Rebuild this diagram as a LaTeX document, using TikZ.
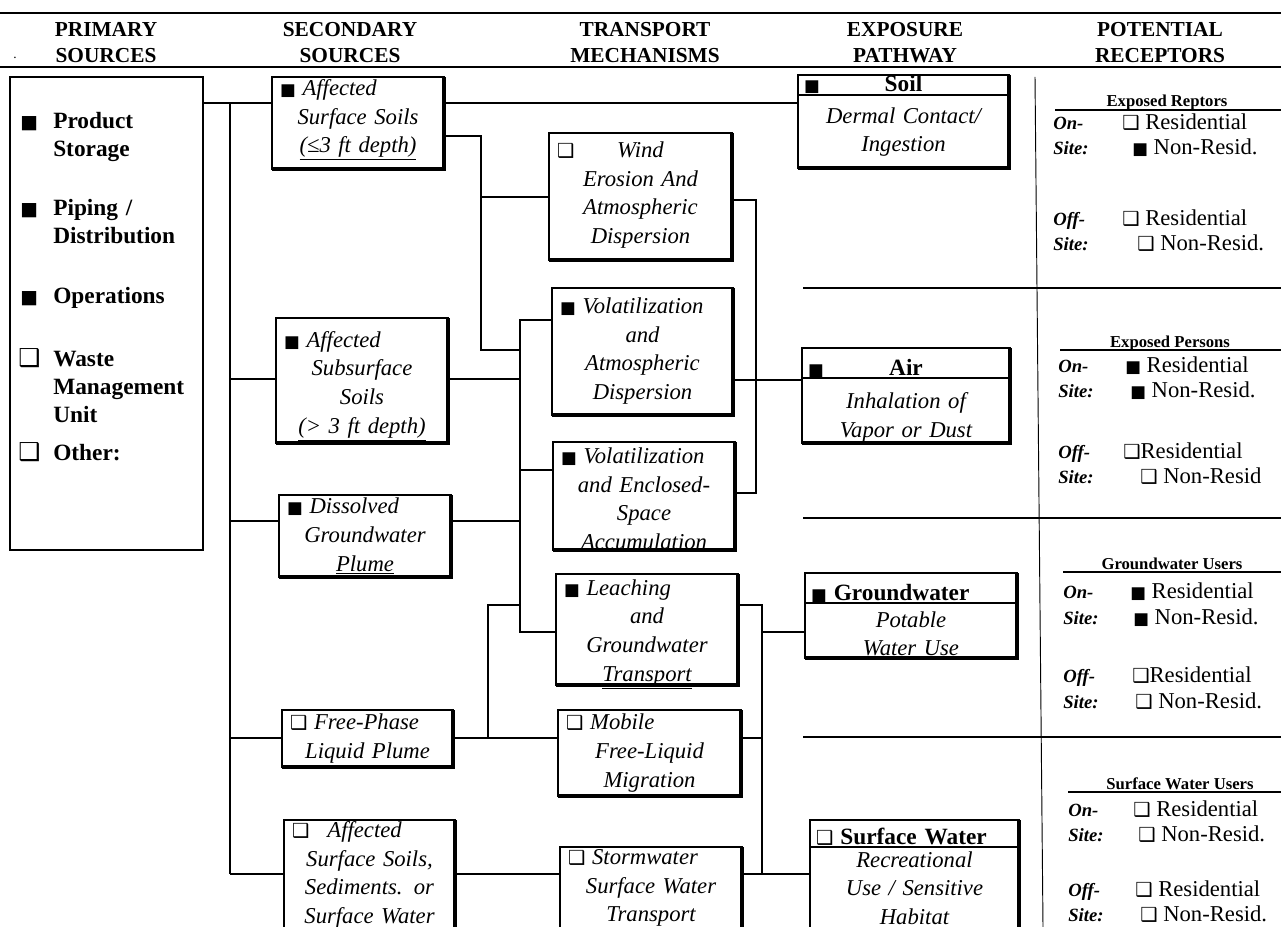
\documentclass[tikz,border=0pt]{standalone}
\usepackage{fontspec}
\setmainfont{Liberation Serif}
\newfontfamily\mysymf{DejaVu Sans}
\usetikzlibrary{calc}

\newcommand\myfsq{{\mysymf\fontsize{12.5}{11}\selectfont\char"25A0}}
\newcommand\myosq{{\mysymf\fontsize{14.5}{11}\selectfont\char"2751}}
\newcommand\myfsqP{{\mysymf\fontsize{14}{14}\selectfont\char"25A0}}
\newcommand\myosqP{{\mysymf\fontsize{18.5}{14}\selectfont\char"2751}}
\newcommand\mysqL[2]{\makebox[\linewidth][l]{#1\hspace{0.3em}#2}}
\newcommand\mysqC[2]{\makebox[\linewidth]{\rlap{#1}\hfill#2\hfill}}

\newcommand\myhead{\bfseries\fontsize{16}{19}\selectfont}
\newcommand\myprim{\bfseries\fontsize{17.5}{21}\selectfont}
\newcommand\mybody{\itshape\fontsize{17}{21.5}\selectfont}
\newcommand\myetit{\bfseries\fontsize{17.5}{20}\selectfont}
\newcommand\myrec{\fontsize{17}{19}\selectfont}
\newcommand\mylab{\bfseries\itshape\fontsize{14}{16}\selectfont}
\newcommand\mystit{\bfseries\fontsize{12.5}{14}\selectfont}

% name x1 y1 x2 y2 texty text
\newcommand\mybx[7]{%
  \node[box, minimum width={(#4-#2)*0.75pt}, minimum height={(#5-#3)*0.75pt}] (#1) at (#2,#3) {};
  \node[btxt, text width={(#4-#2-16)*0.75pt}] (#1t) at ({(#2+#4)/2},#6) {#7};}
% name x1 y1 x2 ydiv y2 title texty body
\newcommand\myex[9]{%
  \node[box, minimum width={(#4-#2)*0.75pt}, minimum height={(#6-#3)*0.75pt}] (#1) at (#2,#3) {};
  \draw[line width=0.9pt] (#1.west |- 0,#5) -- (#1.east |- 0,#5);
  \node[et, text width={(#4-#2-12)*0.75pt}] (#1h) at ({(#2+#4)/2},#5-3) {#7};
  \node[btxt, text width={(#4-#2-16)*0.75pt}] (#1t) at ({(#2+#4)/2},#8) {#9};}
% name x y label xi item
\newcommand\myrow[6]{%
  \node[rl] (#1l) at (#2,#3+7) {#4};
  \node[ri] (#1i) at (#5,#3+7) {#6};}

\begin{document}
\begin{tikzpicture}[x=0.75pt,y=-0.75pt,
  box/.style={draw, line width=0.9pt, inner sep=0pt, outer sep=0pt, anchor=north west},
  btxt/.style={inner sep=0pt, align=center, font=\mybody},
  conn/.style={line width=2.2pt, line join=miter},
  heavy/.style={line width=2.4pt},
  rulel/.style={line width=1.4pt},
  thinrule/.style={line width=0.9pt},
  hd/.style={inner sep=0pt, align=center, font=\myhead, text width=150pt, anchor=base},
  ptxt/.style={inner sep=0pt, align=left, font=\myprim, text width=110pt, anchor=base west},
  psq/.style={inner sep=0pt, anchor=base west},
  et/.style={inner sep=0pt, align=center, font=\myetit, anchor=base},
  rl/.style={inner sep=0pt, font=\mylab, anchor=base west},
  ri/.style={inner sep=0pt, font=\myrec, anchor=base west},
  st/.style={inner sep=0pt, font=\mystit, anchor=base},
]
\fill[white] (0,0) rectangle (1281,927);
\useasboundingbox (0,0) rectangle (1281,927);

% header
\draw[rulel] (0,13) -- (1281,13);
\draw[rulel] (0,67) -- (1281,67);
\node[hd] (h1) at (106,37) {PRIMARY\\SOURCES};
\node[hd] (h2) at (350,37) {SECONDARY\\SOURCES};
\node[hd] (h3) at (645,37) {TRANSPORT\\MECHANISMS};
\node[hd] (h4) at (905,37) {EXPOSURE\\PATHWAY};
\node[hd] (h5) at (1160,37) {POTENTIAL\\RECEPTORS};
\node[inner sep=0pt, font=\fontsize{10}{10}\selectfont] (dot) at (15,58) {.};

% primary sources
\node[box, minimum width={193*0.75pt}, minimum height={473*0.75pt}] (prim) at (10,77) {};
\node[psq] (p1s) at (20,129) {\myfsqP}; \node[ptxt] (p1) at (53,129) {Product\\Storage};
\node[psq] (p2s) at (20,216) {\myfsqP}; \node[ptxt] (p2) at (53,216) {Piping /\\Distribution};
\node[psq] (p3s) at (20,303) {\myfsqP}; \node[ptxt] (p3) at (53,303) {Operations};
\node[psq] (p4s) at (18,366) {\myosqP}; \node[ptxt] (p4) at (53,366) {Waste\\Management\\Unit};
\node[psq] (p5s) at (18,460) {\myosqP}; \node[ptxt] (p5) at (53,460) {Other:};

% secondary sources
\mybx{s1}{272}{77}{444}{169}{120}{\mysqL{\myfsq}{Affected}\\Surface Soils\\\underline{(≤3 ft depth)}}
\mybx{s2}{276}{318}{448}{443}{386}{\mysqL{\myfsq}{Affected}\\Subsurface\\Soils\\\underline{(> 3 ft depth)}}
\mybx{dis}{279}{495}{451}{577}{536}{\mysqL{\myfsq}{Dissolved}\\Groundwater\\\underline{Plume}}
\mybx{fp}{282}{710}{453}{767}{740}{\mysqL{\myosq}{Free-Phase}\\\underline{Liquid Plume}}
\mybx{sed}{284}{820}{455}{940}{875}{\mysqL{\myosq}{\enspace Affected}\\Surface Soils,\\Sediments. or\\Surface Water}

% transport mechanisms
\mybx{wind}{549}{133}{732}{260}{195}{\mysqC{\myosq}{Wind}\\Erosion And\\Atmospheric\\Dispersion}
\mybx{vol1}{552}{288}{733}{415}{351}{\mysqL{\myfsq}{Volatilization}\\and\\Atmospheric\\Dispersion}
\mybx{vol2}{553}{442}{735}{550}{500}{\mysqL{\myfsq}{Volatilization}\\and Enclosed-\\Space\\\underline{Accumulation}}
\mybx{leach}{556}{574}{738}{685}{634}{\mysqL{\myfsq}{Leaching}\\and\\Groundwater\\\underline{Transport}}
\mybx{mob}{558}{710}{741}{796}{753}{\mysqL{\myosq}{Mobile}\\Free-Liquid\\Migration}
\mybx{storm}{560}{847}{742}{940}{888}{\mysqL{\myosq}{Stormwater}\\Surface Water\\Transport}

% exposure pathways
\myex{soil}{798}{75}{1009}{95}{168}{\mysqC{\myfsq}{Soil}}{132}{Dermal Contact/\\Ingestion}
\myex{air}{802}{348}{1010}{378}{443}{\mysqC{\myfsq}{Air}}{419}{Inhalation of\\\underline{Vapor or Dust}}
\myex{gw}{805}{573}{1017}{603}{658}{\mysqL{\myfsq}{Groundwater}}{635}{Potable\\\underline{Water Use}}
\myex{sw}{810}{820}{1019}{847}{940}{\mysqL{\myosq}{Surface Water}}{888}{Recreational\\Use / Sensitive\\Habitat}

\foreach \n in {s1,s2,dis,fp,sed,wind,vol1,vol2,leach,mob,storm,soil,air,gw,sw}
  \draw[heavy] (\n.north east) -- (\n.south east) -- (\n.south west);

% connectors: primary trunk
\coordinate (tr0) at (230,103);
\coordinate (tr1) at (230,379);
\coordinate (tr2) at (230,521);
\coordinate (tr3) at (230,738);
\coordinate (tr4) at (230,874);
\draw[conn] (prim.east |- tr0) -- (s1.west |- tr0);
\draw[conn] (tr0) -- (tr4);
\draw[conn] (tr1) -- (s2.west |- tr1);
\draw[conn] (tr2) -- (dis.west |- tr2);
\draw[conn] (tr3) -- (fp.west |- tr3);
\draw[conn] (tr4) -- (sed.west |- tr4);

% surface soils
\coordinate (a0) at (600,103);
\draw[conn] (s1.east |- a0) -- (soil.west |- a0);
\coordinate (b0) at (481,136);
\coordinate (b1) at (481,197);
\coordinate (b2) at (481,350);
\coordinate (c0) at (520,320);
\coordinate (c1) at (520,350);
\coordinate (c2) at (520,379);
\coordinate (c3) at (520,470);
\coordinate (c4) at (520,521);
\coordinate (c5) at (520,605);
\coordinate (c6) at (520,632);
\draw[conn] (s1.east |- b0) -- (b0) -- (b2) -- (c1);
\draw[conn] (b1) -- (wind.west |- b1);
\draw[conn] (vol1.west |- c0) -- (c0) -- (c6) -- (leach.west |- c6);
\draw[conn] (s2.east |- c2) -- (c2);
\draw[conn] (c3) -- (vol2.west |- c3);
\draw[conn] (dis.east |- c4) -- (c4);

% wind / volatilization to air
\coordinate (d0) at (756,200);
\coordinate (d1) at (756,493);
\draw[conn] (wind.east |- d0) -- (d0) -- (d1) -- (vol2.east |- d1);
\coordinate (d2) at (770,380);
\draw[conn] (vol1.east |- d2) -- (air.west |- d2);

% free phase
\coordinate (e0) at (488,738);
\coordinate (e1) at (488,605);
\draw[conn] (fp.east |- e0) -- (mob.west |- e0);
\draw[conn] (e0) -- (e1) -- (c5);

% groundwater / surface water bus
\coordinate (f0) at (762,605);
\coordinate (f1) at (762,632);
\coordinate (f2) at (762,738);
\coordinate (f3) at (762,874);
\draw[conn] (leach.east |- f0) -- (f0) -- (f3);
\draw[conn] (f1) -- (gw.west |- f1);
\draw[conn] (mob.east |- f2) -- (f2);
\draw[conn] (sed.east |- f3) -- (storm.west |- f3);
\draw[conn] (storm.east |- f3) -- (sw.west |- f3);

% receptors column
\draw[line width=0.7pt] (1035,77) -- (1043,927);
\draw[thinrule] (803,288) -- (1281,288);
\draw[thinrule] (803,518) -- (1281,518);
\draw[thinrule] (803,737) -- (1281,737);

\node[st] (rt1) at (1167,107) {Exposed Reptors};
\draw[thinrule] (1055,110) -- (1281,110);
\myrow{r1a}{1053}{123}{On-}{1122}{\myosq\ Residential}
\myrow{r1b}{1053}{148}{Site:}{1132}{\myfsq\ Non-Resid.}
\myrow{r1c}{1053}{219}{Off-}{1122}{\myosq\ Residential}
\myrow{r1d}{1053}{244}{Site:}{1137}{\myosq\ Non-Resid.}

\node[st] (rt2) at (1170,347) {Exposed Persons};
\draw[thinrule] (1060,350) -- (1281,350);
\myrow{r2a}{1058}{365}{On-}{1125}{\myfsq\ Residential}
\myrow{r2b}{1058}{390}{Site:}{1130}{\myfsq\ Non-Resid.}
\myrow{r2c}{1058}{451}{Off-}{1123}{\myosq Residential}
\myrow{r2d}{1058}{476}{Site:}{1140}{\myosq\ Non-Resid}

\node[st] (rt3) at (1172,569) {Groundwater Users};
\draw[thinrule] (1063,572) -- (1281,572);
\myrow{r3a}{1063}{591}{On-}{1130}{\myfsq\ Residential}
\myrow{r3b}{1063}{617}{Site:}{1133}{\myfsq\ Non-Resid.}
\myrow{r3c}{1063}{675}{Off-}{1132}{\myosq Residential}
\myrow{r3d}{1063}{701}{Site:}{1135}{\myosq\ Non-Resid.}

\node[st] (rt4) at (1180,789) {Surface Water Users};
\draw[thinrule] (1068,792) -- (1281,792);
\myrow{r4a}{1068}{809}{On-}{1133}{\myosq\ Residential}
\myrow{r4b}{1068}{834}{Site:}{1138}{\myosq\ Non-Resid.}
\myrow{r4c}{1068}{889}{Off-}{1135}{\myosq\ Residential}
\myrow{r4d}{1068}{914}{Site:}{1140}{\myosq\ Non-Resid.}
\end{tikzpicture}
\end{document}
